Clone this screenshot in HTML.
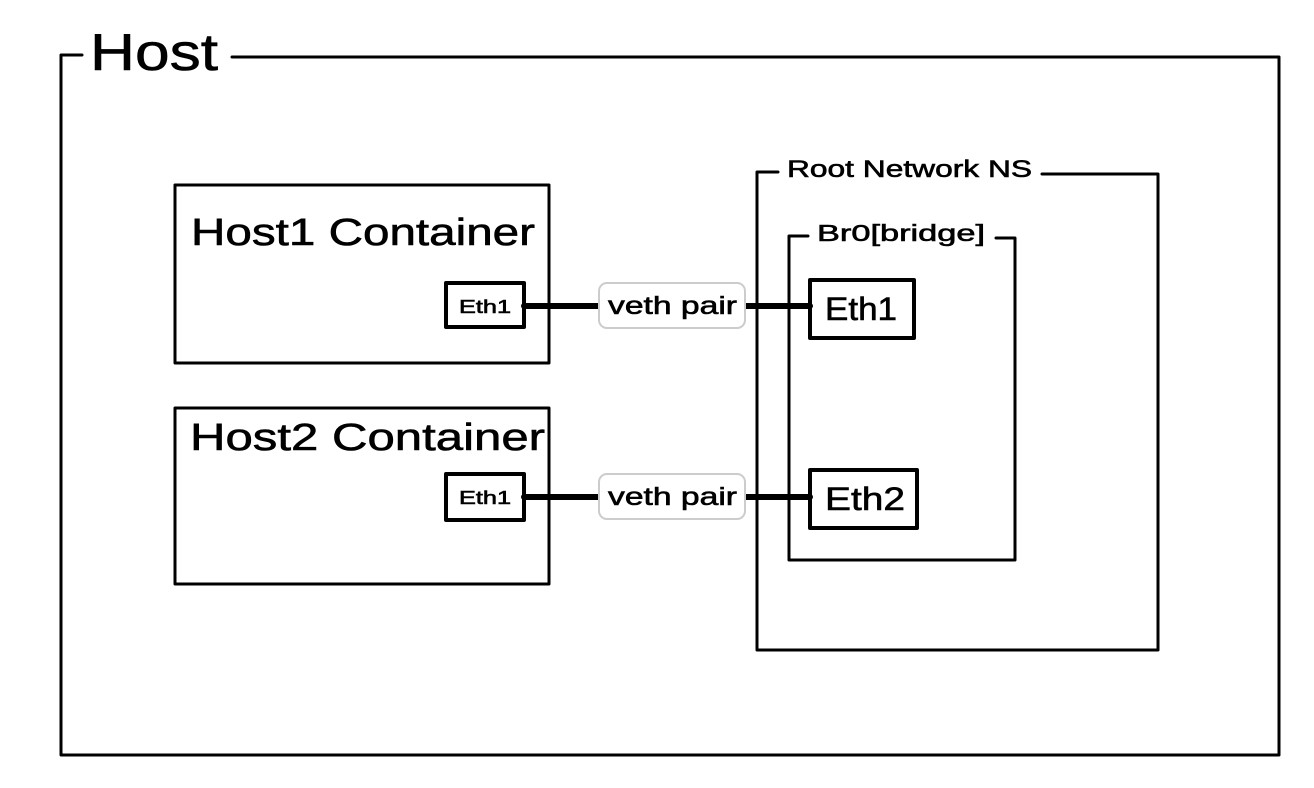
<!DOCTYPE html>
<html><head><style>body{margin:0;background:#fff}svg{display:block}</style></head>
<body>
<svg width="1314" height="788" viewBox="0 0 1314 788" font-family="Liberation Sans, sans-serif">
<g fill="none" stroke="#000" stroke-width="3" stroke-linejoin="round" stroke-linecap="round">
<path d="M82 55 H61 V755 H1279 V57 H232"/>
<rect x="175" y="185" width="374" height="178"/>
<rect x="175" y="408" width="374" height="176"/>
<path d="M778 172 H757 V650 H1158 V174 H1042"/>
<path d="M808 236 H789 V560 H1015 V238 H996"/>
<rect x="446" y="283" width="78" height="44" stroke-width="4"/>
<rect x="446" y="474" width="78" height="46" stroke-width="4"/>
<rect x="810" y="280" width="104" height="58" stroke-width="4"/>
<rect x="810" y="470" width="107" height="58" stroke-width="4"/>
<path d="M524 306 H810 M524 497 H810" stroke-width="6"/>
</g>
<rect x="599" y="283" width="146" height="45" rx="8" fill="#fff" stroke="#ccc" stroke-width="2"/>
<rect x="599" y="474" width="146" height="45" rx="8" fill="#fff" stroke="#ccc" stroke-width="2"/>
<g fill="#000" stroke="#000" stroke-width="0.6">
<text x="90" y="70" font-size="52" textLength="128" lengthAdjust="spacingAndGlyphs">Host</text>
<text x="191" y="245" font-size="38" textLength="344" lengthAdjust="spacingAndGlyphs">Host1 Container</text>
<text x="190" y="450" font-size="38" textLength="355" lengthAdjust="spacingAndGlyphs">Host2 Container</text>
<text x="787" y="177" font-size="24" textLength="245" lengthAdjust="spacingAndGlyphs">Root Network NS</text>
<text x="817" y="241" font-size="23" textLength="168" lengthAdjust="spacingAndGlyphs">Br0[bridge]</text>
<text x="459" y="313" font-size="18" textLength="52" lengthAdjust="spacingAndGlyphs">Eth1</text>
<text x="459" y="504" font-size="18" textLength="52" lengthAdjust="spacingAndGlyphs">Eth1</text>
<text x="825" y="320" font-size="32" textLength="72" lengthAdjust="spacingAndGlyphs">Eth1</text>
<text x="825" y="510" font-size="32" textLength="80" lengthAdjust="spacingAndGlyphs">Eth2</text>
<text x="608" y="314" font-size="25" textLength="129" lengthAdjust="spacingAndGlyphs">veth pair</text>
<text x="608" y="505" font-size="25" textLength="129" lengthAdjust="spacingAndGlyphs">veth pair</text>
</g>
</svg>
</body></html>
